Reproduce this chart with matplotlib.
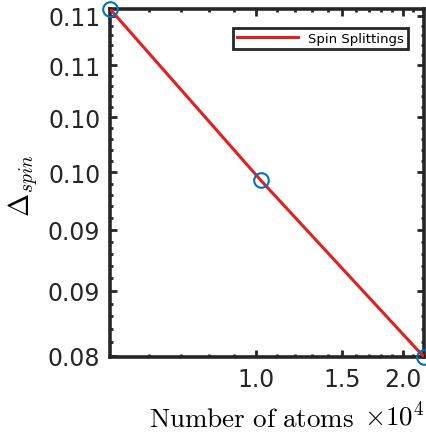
import numpy as np
import matplotlib
matplotlib.use('Agg')
from matplotlib import pyplot as plt
from matplotlib.ticker import FixedLocator, NullFormatter

plt.rcParams['mathtext.fontset'] = 'cm'
plt.rcParams['font.family'] = 'DejaVu Sans'

# data (log-log)
n_atoms = [5000, 10200, 22100]
spin_split = [0.1107, 0.0943, 0.0799]

x_ticks = [10000, 15000, 20000]
x_tick_labels = ['1.0', '1.5', '2.0']
y_ticks = [0.080, 0.085, 0.090, 0.095, 0.100, 0.105, 0.110]
y_tick_labels = ['0.08', '0.09', '0.09', '0.10', '0.10', '0.11', '0.11']

ink = '#262626'

fig = plt.figure(figsize=(4.26, 4.39), dpi=100)
ax = fig.add_axes([110 / 426, 1 - 358 / 439, 314 / 426, 348 / 439])

ax.plot(n_atoms, spin_split, color='#e41f1f', lw=2.2, label='Spin Splittings',
        zorder=3)
ax.plot(n_atoms, spin_split, ls='none', marker='o', ms=10.5, mfc='none',
        mec='#0072BD', mew=1.5, clip_on=False, zorder=4)

ax.set_xscale('log')
ax.set_yscale('log')
ax.set_xlim(n_atoms[0], n_atoms[-1])
ax.set_ylim(spin_split[-1], spin_split[0])

ax.xaxis.set_major_locator(FixedLocator(x_ticks))
ax.set_xticklabels(x_tick_labels)
ax.xaxis.set_minor_locator(FixedLocator(np.arange(5000, 22001, 1000)))
ax.xaxis.set_minor_formatter(NullFormatter())

ax.yaxis.set_major_locator(FixedLocator(y_ticks))
ax.set_yticklabels(y_tick_labels)
ax.yaxis.set_minor_locator(FixedLocator(np.arange(0.080, 0.1105, 0.001)))
ax.yaxis.set_minor_formatter(NullFormatter())

ax.tick_params(which='both', direction='in', top=True, right=True,
               color=ink, width=2)
ax.tick_params(which='major', length=5, labelsize=17, labelcolor=ink, pad=7)
ax.tick_params(which='minor', length=2.5)
for sp in ax.spines.values():
    sp.set_linewidth(2.6)
    sp.set_color(ink)

leg = ax.legend(loc='upper right', fontsize=9.5, handlelength=4.6,
                fancybox=False, framealpha=1, edgecolor=ink,
                borderpad=0.3, bbox_to_anchor=(0.97, 0.965))
leg.get_frame().set_linewidth(2.0)

fig.text(24 / 426, 1 - 185 / 439, r'$\Delta_{spin}$', rotation=90,
         fontsize=20, ha='center', va='center')
fig.text(252 / 426, 1 - 420 / 439, r'$\mathrm{Number\ of\ atoms}$',
         fontsize=19.5, ha='center', va='center')
fig.text(394 / 426, 1 - 416 / 439, r'$\times10^{4}$',
         fontsize=19.5, ha='center', va='center')

fig.savefig('out.png', dpi=100)
